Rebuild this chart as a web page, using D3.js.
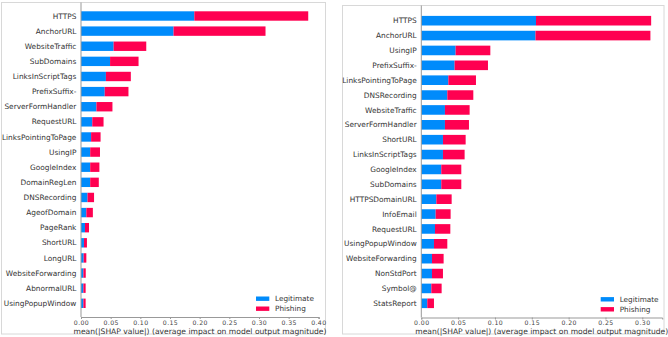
<!DOCTYPE html>
<html><head><meta charset="utf-8">
<script src="https://cdn.jsdelivr.net/npm/d3@7/dist/d3.min.js"></script>
<style>body{margin:0;background:#fff}svg{display:block}text{font-family:"DejaVu Sans",sans-serif}</style>
</head><body><svg id="c" width="668" height="337"></svg>
<script>
// Left chart data
const leftFeatures = ["HTTPS","AnchorURL","WebsiteTraffic","SubDomains","LinksInScriptTags","PrefixSuffix-","ServerFormHandler","RequestURL","LinksPointingToPage","UsingIP","GoogleIndex","DomainRegLen","DNSRecording","AgeofDomain","PageRank","ShortURL","LongURL","WebsiteForwarding","AbnormalURL","UsingPopupWindow"];
const leftLegit = [0.191,0.156,0.055,0.049,0.042,0.040,0.026,0.019,0.017,0.0155,0.0155,0.0155,0.011,0.009,0.0067,0.005,0.0045,0.004,0.004,0.004];
const leftPhish = [0.192,0.155,0.055,0.048,0.042,0.040,0.027,0.019,0.016,0.0165,0.0155,0.0145,0.011,0.011,0.0068,0.005,0.0045,0.004,0.0038,0.0038];
const leftTicks = [0,0.05,0.10,0.15,0.20,0.25,0.30,0.35,0.40];

// Right chart data
const rightFeatures = ["HTTPS","AnchorURL","UsingIP","PrefixSuffix-","LinksPointingToPage","DNSRecording","WebsiteTraffic","ServerFormHandler","ShortURL","LinksInScriptTags","GoogleIndex","SubDomains","HTTPSDomainURL","InfoEmail","RequestURL","UsingPopupWindow","WebsiteForwarding","NonStdPort","Symbol@","StatsReport"];
const rightLegit = [0.1557,0.155,0.0466,0.0452,0.0367,0.0353,0.0321,0.0321,0.0294,0.0294,0.0271,0.0271,0.0204,0.0195,0.0186,0.0172,0.0145,0.0145,0.0136,0.0081];
const rightPhish = [0.1563,0.156,0.0471,0.0453,0.0375,0.0353,0.0335,0.0326,0.0308,0.0294,0.0272,0.0272,0.0208,0.0203,0.0208,0.0181,0.0158,0.0149,0.014,0.0091];
const rightTicks = [0,0.05,0.10,0.15,0.20,0.25,0.30];

const seriesNames = ["Legitimate","Phishing"];
const colors = ["#008bfb","#ff0051"];
const titleText = "mean(|SHAP value|) (average impact on model output magnitude)";

const svg = d3.select("#c");

function panel(cfg){
  const g = svg.append("g");
  g.append("rect").attr("x",cfg.box[0]).attr("y",cfg.box[1]).attr("width",cfg.box[2]).attr("height",cfg.box[3])
    .attr("fill","none").attr("stroke","#d8d8d8").attr("stroke-width",1);
  const x = d3.scaleLinear().domain([0,cfg.xmax]).range([cfg.x0,cfg.x1]);
  const y = d3.scalePoint().domain(cfg.features).range([cfg.yTop,cfg.yBot]);
  const bh = cfg.barH;
  const data = cfg.features.map((f,i)=>({f, a:cfg.legit[i], b:cfg.phish[i]}));
  g.selectAll(".bl").data(data).enter().append("rect")
    .attr("x",x(0)).attr("y",d=>y(d.f)-bh/2).attr("width",d=>x(d.a)-x(0)).attr("height",bh).attr("fill",colors[0]);
  g.selectAll(".br").data(data).enter().append("rect")
    .attr("x",d=>x(d.a)).attr("y",d=>y(d.f)-bh/2).attr("width",d=>x(d.a+d.b)-x(d.a)).attr("height",bh).attr("fill",colors[1]);
  // y labels
  g.selectAll(".yl").data(data).enter().append("text")
    .attr("x",x(0)-4.6).attr("y",d=>y(d.f)).attr("dy","0.35em").attr("text-anchor","end")
    .attr("font-size","7.4px").attr("fill","#333").text(d=>d.f);
  // left spine
  g.append("line").attr("x1",x(0)).attr("x2",x(0)).attr("y1",cfg.box[1]).attr("y2",cfg.axisY).attr("stroke","#999").attr("stroke-width",1);
  // x axis
  const ax = d3.axisBottom(x).tickValues(cfg.ticks).tickFormat(d3.format(".2f")).tickSize(2).tickPadding(1.5);
  const axg = g.append("g").attr("transform",`translate(0,${cfg.axisY})`).call(ax);
  axg.select(".domain").attr("stroke","#999");
  axg.selectAll(".tick line").attr("stroke","#999");
  axg.selectAll("text").attr("font-size","6.2px").attr("fill","#444").attr("font-family","DejaVu Sans").attr("letter-spacing","0.4px");
  g.append("text").attr("x",(cfg.x0+cfg.x1)/2).attr("y",cfg.axisY+16.5).attr("text-anchor","middle")
    .attr("font-size","7.6px").attr("fill","#333").text(titleText);
  // legend
  seriesNames.forEach((s,i)=>{
    const ly = cfg.legY + i*10;
    g.append("rect").attr("x",cfg.legX).attr("y",ly-2.2).attr("width",13.3).attr("height",4.4).attr("fill",colors[i]);
    g.append("text").attr("x",cfg.legX+19).attr("y",ly).attr("dy","0.35em").attr("font-size","7.3px").attr("fill","#333").text(s);
  });
}

panel({box:[1.5,2.5,324,331.5], xmax:0.401, x0:81, x1:81+0.401*593.3, yTop:16, yBot:303.3, barH:9.4,
  features:leftFeatures, legit:leftLegit, phish:leftPhish, ticks:leftTicks, axisY:317, legX:256, legY:298.7});
panel({box:[342.5,5.5,321.5,328.5], xmax:0.327, x0:421.3, x1:421.3+0.327*736.7, yTop:20.7, yBot:303.3, barH:9.6,
  features:rightFeatures, legit:rightLegit, phish:rightPhish, ticks:rightTicks, axisY:317.5, legX:600.7, legY:299.3});
</script></body></html>
